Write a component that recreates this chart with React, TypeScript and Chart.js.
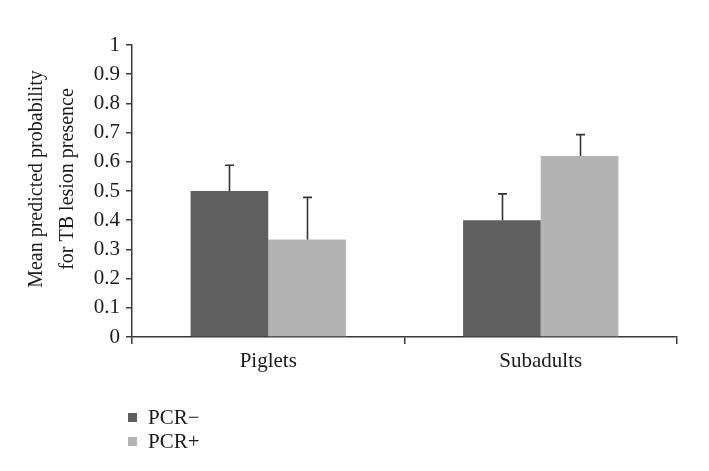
import React, { useEffect, useRef } from "react";
import { Chart, registerables } from "chart.js";

Chart.register(...registerables);

const categories = ["Piglets", "Subadults"];
const seriesNames = ["PCR\u2212", "PCR+"];
const pcrMinus = [0.5, 0.4];
const pcrPlus = [0.334, 0.62];
const pcrMinusErr = [0.088, 0.09];
const pcrPlusErr = [0.144, 0.073];
const yTickLabels = ["0", "0.1", "0.2", "0.3", "0.4", "0.5", "0.6", "0.7", "0.8", "0.9", "1"];
const yTitle = ["Mean predicted probability", "for TB lesion presence"];

const FONT = "'Liberation Serif', 'Times New Roman', serif";
const AXIS = "#3a3a3a";
const DARK = "#5f5f5f";
const LIGHT = "#b3b3b3";

const errorPlugin = {
  id: "errorBars",
  afterDatasetsDraw(chart: any) {
    const ctx = chart.ctx;
    const yScale = chart.scales.y;
    chart.data.datasets.forEach((ds: any, di: number) => {
      const meta = chart.getDatasetMeta(di);
      meta.data.forEach((el: any, i: number) => {
        const top = yScale.getPixelForValue(ds.data[i] + ds.errors[i]);
        const x = Math.round(el.x) + 0.5;
        ctx.save();
        ctx.strokeStyle = "#333333";
        ctx.lineWidth = 1.6;
        ctx.beginPath();
        ctx.moveTo(x, el.y);
        ctx.lineTo(x, top);
        ctx.moveTo(x - 4.5, top);
        ctx.lineTo(x + 4.5, top);
        ctx.stroke();
        ctx.restore();
      });
    });
  },
};

const decorPlugin = {
  id: "decor",
  afterDraw(chart: any) {
    const ctx = chart.ctx;
    const area = chart.chartArea;
    ctx.save();
    // y-axis title
    ctx.font = `20px ${FONT}`;
    ctx.fillStyle = "#1a1a1a";
    ctx.textAlign = "center";
    ctx.textBaseline = "middle";
    const cy = 179;
    yTitle.forEach((line, i) => {
      ctx.save();
      ctx.translate(37 + i * 31, cy);
      ctx.rotate(-Math.PI / 2);
      ctx.fillText(line, 0, 0);
      ctx.restore();
    });
    // legend
    const colors = [DARK, LIGHT];
    ctx.textAlign = "left";
    seriesNames.forEach((name, i) => {
      const y = 417.5 + i * 24;
      ctx.fillStyle = colors[i];
      ctx.fillRect(area.left - 4, y - 4.5, 9, 9);
      ctx.fillStyle = "#1a1a1a";
      ctx.font = `21px ${FONT}`;
      ctx.fillText(name, area.left + 16, y + 1);
    });
    ctx.restore();
  },
};

export default function App() {
  const ref = useRef<HTMLCanvasElement | null>(null);
  useEffect(() => {
    if (!ref.current) return;
    const chart = new Chart(ref.current, {
      type: "bar",
      data: {
        labels: categories,
        datasets: [
          {
            label: seriesNames[0],
            data: pcrMinus,
            errors: pcrMinusErr,
            backgroundColor: DARK,
            borderWidth: 0,
          } as any,
          {
            label: seriesNames[1],
            data: pcrPlus,
            errors: pcrPlusErr,
            backgroundColor: LIGHT,
            borderWidth: 0,
          } as any,
        ],
      },
      options: {
        animation: false,
        responsive: true,
        maintainAspectRatio: false,
        layout: { padding: { top: 45, right: 32, left: 0, bottom: 0 } },
        datasets: { bar: { categoryPercentage: 0.57, barPercentage: 1 } },
        plugins: {
          legend: { display: false },
          tooltip: { enabled: false },
          title: { display: false },
        },
        scales: {
          x: {
            grid: {
              display: true,
              drawOnChartArea: false,
              drawTicks: true,
              tickLength: 7,
              offset: true,
              color: AXIS,
              lineWidth: 1.5,
            },
            border: { display: true, color: AXIS, width: 1.5 },
            ticks: {
              color: "#1a1a1a",
              font: { family: FONT, size: 21 },
              padding: 5,
            },
            afterFit(scale: any) {
              scale.height = 134;
            },
          },
          y: {
            min: 0,
            max: 1,
            grid: {
              display: true,
              drawOnChartArea: false,
              drawTicks: true,
              tickLength: 6,
              color: AXIS,
              lineWidth: 1.5,
            },
            border: { display: true, color: AXIS, width: 1.5 },
            ticks: {
              stepSize: 0.1,
              color: "#1a1a1a",
              font: { family: FONT, size: 21 },
              padding: 6,
              callback: (_v: any, i: number) => yTickLabels[i],
            },
            afterFit(scale: any) {
              scale.width = 132;
            },
          },
        },
      },
      plugins: [errorPlugin, decorPlugin],
    } as any);
    return () => chart.destroy();
  }, []);
  return (
    <div style={{ position: "fixed", left: 0, top: 0, width: 709, height: 471, background: "#fff" }}>
      <canvas ref={ref} />
    </div>
  );
}
